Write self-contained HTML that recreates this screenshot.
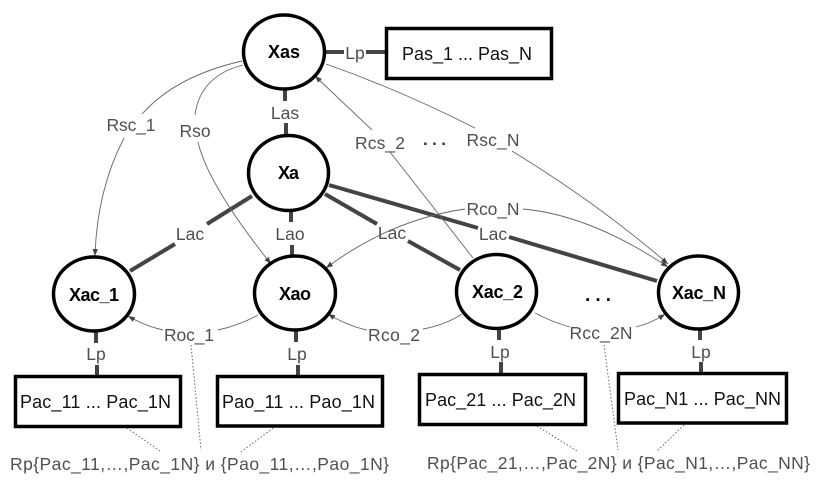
<!DOCTYPE html>
<html>
<head>
<meta charset="utf-8">
<style>
html,body{margin:0;padding:0;background:#fff;width:820px;height:487px;overflow:hidden}
svg{display:block}
text{font-family:"Liberation Sans",sans-serif}
.l{font-size:17.5px;fill:#505050;text-anchor:middle}
.b{font-size:18px;fill:#111}
.n{font-size:18px;font-weight:bold;fill:#000;text-anchor:middle}
.t{fill:none;stroke:#666;stroke-width:.9}
.d{fill:none;stroke:#666;stroke-width:1;stroke-dasharray:1.5 2}
.k{stroke:#444;stroke-width:4;fill:none}
ellipse{fill:#fff;stroke:#000;stroke-width:3.5}
rect{fill:#fff;stroke:#000;stroke-width:3.5}
</style>
</head>
<body>
<svg width="820" height="487" viewBox="0 0 820 487" xmlns="http://www.w3.org/2000/svg">
<defs>
<marker id="a" markerWidth="8" markerHeight="7" refX="7" refY="3.5" orient="auto" markerUnits="userSpaceOnUse">
<path d="M0,0.8 L7,3.5 L0,6.2 Z" fill="#444"/>
</marker>
</defs>

<!-- thick links -->
<path class="k" d="M326,52H344M366,52H385"/>
<path class="k" d="M285,90V101M286,123V134"/>
<path class="k" d="M252,196L207,224M175,244L130,271"/>
<path class="k" d="M291,212V222M292,245V255"/>
<path class="k" d="M325,194L377,224M408,241L460,270"/>
<path class="k" d="M329,185L478,228M509,237L657,281"/>
<path class="k" d="M96,332V343M97,365V375"/>
<path class="k" d="M296,331V342M298,365V375"/>
<path class="k" d="M499,329V340M501,362V373"/>
<path class="k" d="M700,329V340M701,362V372"/>

<!-- thin connectors -->
<path class="t" d="M242,61Q176,76 142,114"/>
<path class="t" marker-end="url(#a)" d="M124,138Q97,190 95,256"/>
<path class="t" d="M243,65Q200,76 195,115"/>
<path class="t" marker-end="url(#a)" d="M198,142Q208,185 271,264"/>
<path class="t" marker-end="url(#a)" d="M372,130L315,76"/>
<path class="t" d="M390,152L473,258"/>
<path class="t" d="M326,64Q400,90 475,128"/>
<path class="t" marker-end="url(#a)" d="M512,151Q600,205 668,264"/>
<path class="t" marker-end="url(#a)" d="M465,209Q390,220 326,268"/>
<path class="t" marker-end="url(#a)" d="M523,209Q590,215 668,267"/>
<path class="t" d="M258,315Q240,325 218,330"/>
<path class="t" marker-end="url(#a)" d="M163,330Q145,326 128,316"/>
<path class="t" d="M462,314Q445,325 423,329"/>
<path class="t" marker-end="url(#a)" d="M367,330Q348,326 328,314"/>
<path class="t" d="M535,313Q552,322 570,327"/>
<path class="t" marker-end="url(#a)" d="M636,327Q652,323 665,314"/>

<!-- dotted -->
<path class="d" d="M191,345L201,450M127,428L160,451M273,428L241,452"/>
<path class="d" d="M604,345L618,450M537,426L577,451M684,425L657,451"/>

<!-- nodes -->
<ellipse cx="284" cy="52" rx="40.5" ry="37"/>
<ellipse cx="288.5" cy="173" rx="40" ry="37.5"/>
<ellipse cx="94" cy="294" rx="40.5" ry="37"/>
<ellipse cx="295" cy="293" rx="40.5" ry="37"/>
<ellipse cx="496.5" cy="291.5" rx="40" ry="37"/>
<ellipse cx="698.5" cy="292.5" rx="40" ry="36.5"/>

<!-- boxes -->
<rect x="386.5" y="28.5" width="165" height="50"/>
<rect x="15.5" y="376.5" width="165" height="50"/>
<rect x="217.5" y="376.5" width="165" height="49.5"/>
<rect x="419.5" y="374.5" width="166" height="50"/>
<rect x="618.5" y="373.5" width="168" height="49.5"/>

<!-- node labels -->
<text class="n" x="284" y="58" textLength="32">Xas</text>
<text class="n" x="288.5" y="179" textLength="21">Xa</text>
<text class="n" x="94" y="301" textLength="50">Xac_1</text>
<text class="n" x="295" y="300" textLength="32">Xao</text>
<text class="n" x="497.5" y="298" textLength="51">Xac_2</text>
<text class="n" x="699" y="299" textLength="54">Xac_N</text>

<!-- box labels -->
<text class="b" x="402" y="60" textLength="130">Pas_1 ... Pas_N</text>
<text class="b" x="20" y="408" textLength="151">Pac_11 ... Pac_1N</text>
<text class="b" x="222" y="408" textLength="153">Pao_11 ... Pao_1N</text>
<text class="b" x="425" y="406" textLength="151">Pac_21 ... Pac_2N</text>
<text class="b" x="624" y="405" textLength="157">Pac_N1 ... Pac_NN</text>

<!-- connector labels -->
<text class="l" x="355" y="59">Lp</text>
<text class="l" x="285" y="119">Las</text>
<text class="l" x="131" y="131" textLength="49">Rsc_1</text>
<text class="l" x="195" y="137">Rso</text>
<text class="l" x="380" y="149" textLength="50">Rcs_2</text>
<text class="l" x="493" y="146" textLength="53">Rsc_N</text>
<text class="l" x="493" y="215" textLength="53">Rco_N</text>
<text class="l" x="493" y="240">Lac</text>
<text class="l" x="190" y="240">Lac</text>
<text class="l" x="290" y="240">Lao</text>
<text class="l" x="392" y="239">Lac</text>
<text class="l" x="189" y="341" textLength="50">Roc_1</text>
<text class="l" x="394" y="341" textLength="52">Rco_2</text>
<text class="l" x="601" y="339" textLength="63">Rcc_2N</text>
<text class="l" x="96" y="360">Lp</text>
<text class="l" x="297" y="360">Lp</text>
<text class="l" x="500" y="358">Lp</text>
<text class="l" x="701" y="358">Lp</text>

<text x="423" y="145" font-size="17" font-weight="bold" fill="#333" textLength="23">...</text>
<text x="585" y="301" font-size="19" font-weight="bold" fill="#111" textLength="26">...</text>

<text x="10" y="470" font-size="17.5" fill="#505050" textLength="379" style="font-family:'Liberation Sans','Noto Sans CJK SC',sans-serif">Rp{Pac_11,…,Pac_1N} и {Pao_11,…,Pao_1N}</text>
<text x="427" y="469" font-size="17.5" fill="#505050" textLength="383" style="font-family:'Liberation Sans','Noto Sans CJK SC',sans-serif">Rp{Pac_21,…,Pac_2N} и {Pac_N1,…,Pac_NN}</text>
</svg>
</body>
</html>
